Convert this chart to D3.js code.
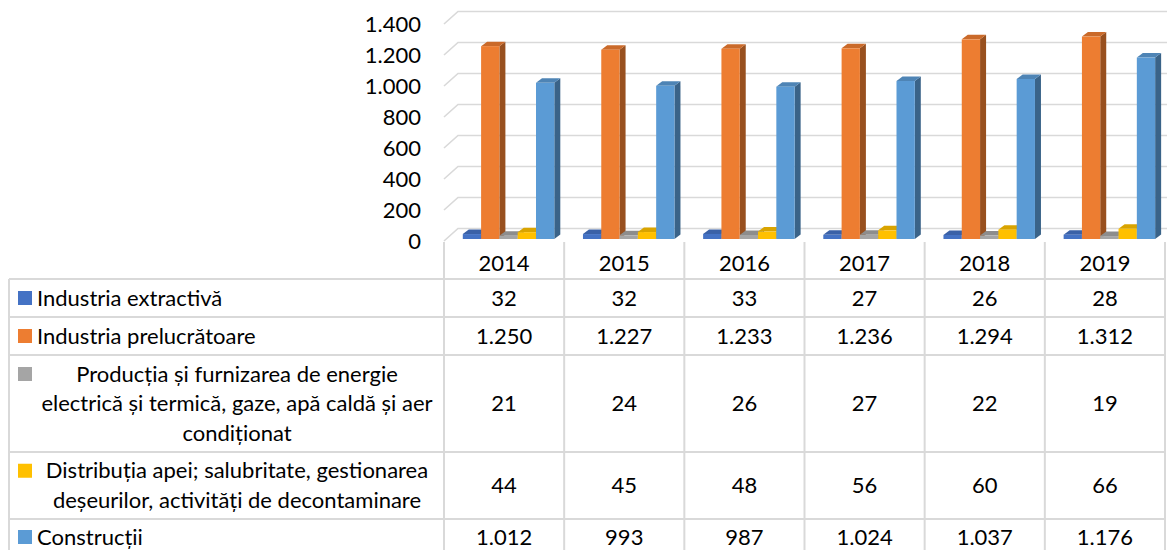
<!DOCTYPE html>
<html>
<head>
<meta charset="utf-8">
<script src="https://cdn.jsdelivr.net/npm/d3@7"></script>
<style>
  html, body { margin: 0; padding: 0; background: #fff; }
  svg text { font-family: Lato, "Liberation Sans", sans-serif; fill: #000; }
</style>
</head>
<body>
<svg id="chart" width="1167" height="550"></svg>
<script>
// Categories (years)
const years = ["2014", "2015", "2016", "2017", "2018", "2019"];

// Series values
const extractiva    = [32, 32, 33, 27, 26, 28];
const prelucratoare = [1250, 1227, 1233, 1236, 1294, 1312];
const energie       = [21, 24, 26, 27, 22, 19];
const apa           = [44, 45, 48, 56, 60, 66];
const constructii   = [1012, 993, 987, 1024, 1037, 1176];

// Series labels (as wrapped in the data table) and colours
const seriesLabels = [
  ["Industria extractivă"],
  ["Industria prelucrătoare"],
  ["Producția și furnizarea de energie", "electrică și termică, gaze, apă caldă și aer", "condiționat"],
  ["Distribuția apei; salubritate, gestionarea", "deșeurilor, activități de decontaminare"],
  ["Construcții"]
];
const seriesColors = ["#4472C4", "#ED7D31", "#A5A5A5", "#FFC000", "#5B9BD5"];
const seriesValues = [extractiva, prelucratoare, energie, apa, constructii];

// Axis ticks
const yTicks = [0, 200, 400, 600, 800, 1000, 1200, 1400];

const ro = d3.formatLocale({ decimal: ",", thousands: ".", grouping: [3], currency: ["", " lei"] });
const fmt = ro.format(",d");

const svg = d3.select("#chart");
const W = 1167, FONT = 22;

// ---- layout ----
const tableLeft = 9, colStart = 444, colEnd = 1165;
const depthX = 14, depthY = -12.5;          // floor / wall depth offset
const barDX = 6, barDY = -4.5;              // bar depth offset
const rowTops = [279, 317, 355, 452, 519];
const rowBottoms = [317, 355, 452, 519, 558];
const headerTop = 242;

const x = d3.scaleBand().domain(years).range([colStart, colEnd]);
const groupW = 91.5, groupShift = 18.8;
const xs = d3.scaleBand().domain(d3.range(seriesValues.length)).range([0, groupW]);

const yFront = d3.scaleLinear().domain([0, 1400]).range([241, 24]);
const yBack  = d3.scaleLinear().domain([0, 1400]).range([241 + depthY, 24 + depthY]);
const yBar   = d3.scaleLinear().domain([0, 1400]).range([239, 239 - 216]);

// ---- walls & gridlines ----
const grid = svg.append("g").attr("stroke", "#d9d9d9").attr("stroke-width", 1.6).attr("fill", "none");
yTicks.forEach(t => {
  grid.append("path").attr("d",
    `M${colStart},${yFront(t)} L${colStart + depthX},${yBack(t)} L${W + 2},${yBack(t)}`);
});

// ---- y axis labels ----
const yAxis = d3.axisLeft(yFront).tickValues(yTicks).tickFormat(fmt).tickSize(0).tickPadding(0);
const ya = svg.append("g").attr("transform", "translate(421,0)").call(yAxis);
ya.select(".domain").remove();
ya.selectAll("text").attr("font-size", FONT).attr("font-family", null).attr("fill", "#000");

// ---- 3D bars ----
const bars = svg.append("g");
years.forEach((yr, i) => {
  seriesValues.forEach((vals, s) => {
    const v = vals[i];
    const x0 = x(yr) + groupShift + xs(s), x1 = x0 + xs.bandwidth();
    const yb = yBar(0), yt = yBar(v);
    const c = d3.color(seriesColors[s]);
    const side = c.darker(1.25).formatHex();
    const top = c.darker(0.45).formatHex();
    const g = bars.append("g");
    g.append("path").attr("fill", side).attr("d",
      `M${x1},${yb} L${x1 + barDX},${yb + barDY} L${x1 + barDX},${yt + barDY} L${x1},${yt} Z`);
    g.append("path").attr("fill", top).attr("d",
      `M${x0},${yt} L${x0 + barDX},${yt + barDY} L${x1 + barDX},${yt + barDY} L${x1},${yt} Z`);
    g.append("rect").attr("x", x0).attr("y", yt).attr("width", x1 - x0).attr("height", yb - yt)
      .attr("fill", seriesColors[s]);
  });
});

// ---- data table ----
const tbl = svg.append("g").attr("stroke", "#d9d9d9").attr("stroke-width", 2).attr("fill", "none");
// vertical column borders, starting in the header row
x.domain().concat([null]).forEach(yr => {
  const xx = yr === null ? colEnd : x(yr);
  tbl.append("line").attr("x1", xx).attr("x2", xx).attr("y1", headerTop).attr("y2", rowBottoms[rowBottoms.length - 1]);
});
rowTops.forEach(t => {
  tbl.append("line").attr("x1", tableLeft).attr("x2", colEnd).attr("y1", t).attr("y2", t);
});
tbl.append("line").attr("x1", tableLeft).attr("x2", tableLeft).attr("y1", rowTops[0]).attr("y2", rowBottoms[rowBottoms.length - 1]);

const txt = svg.append("g").attr("font-size", FONT);
years.forEach(yr => {
  txt.append("text").attr("x", x(yr) + x.bandwidth() / 2).attr("y", (headerTop + rowTops[0]) / 2 + 3)
    .attr("dy", "0.35em").attr("text-anchor", "middle").text(yr);
});

const lineH = 29.5, textLeft = 37, textCenter = 237;
seriesLabels.forEach((lines, s) => {
  const rowCy = s === 4 ? 537 : (rowTops[s] + rowBottoms[s]) / 2;
  const firstY = rowCy - (lines.length - 1) * lineH / 2;
  svg.append("rect").attr("x", 18).attr("y", firstY - 7).attr("width", 14).attr("height", 14)
    .attr("fill", seriesColors[s]);
  lines.forEach((ln, k) => {
    const single = lines.length === 1;
    txt.append("text")
      .attr("x", single ? textLeft : textCenter)
      .attr("y", firstY + k * lineH)
      .attr("dy", "0.35em")
      .attr("text-anchor", single ? "start" : "middle")
      .text(ln);
  });
  seriesValues[s].forEach((v, i) => {
    txt.append("text").attr("x", x(years[i]) + x.bandwidth() / 2).attr("y", rowCy)
      .attr("dy", "0.35em").attr("text-anchor", "middle").text(fmt(v));
  });
});
</script>
</body>
</html>
